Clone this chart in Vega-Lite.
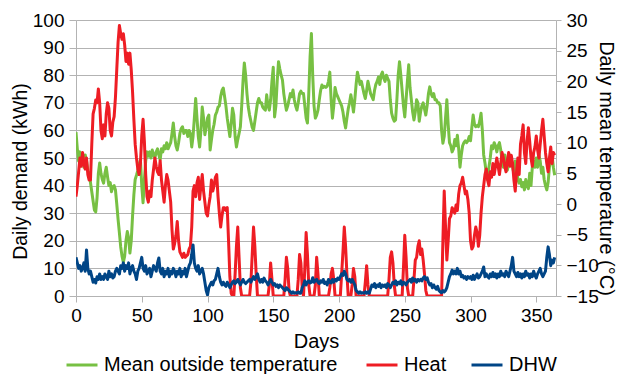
{
  "$schema": "https://vega.github.io/schema/vega-lite/v6.json",
  "width": 480,
  "height": 276,
  "autosize": {"type": "none"},
  "padding": {"left": 76, "top": 20, "right": 61, "bottom": 78},
  "background": "white",
  "config": {
    "font": "Liberation Sans",
    "view": {"stroke": null},
    "axis": {
      "labelFont": "Liberation Sans", "titleFont": "Liberation Sans",
      "labelFontSize": 19, "titleFontSize": 20, "titleFontWeight": "normal",
      "labelColor": "#000000", "titleColor": "#000000",
      "domainColor": "#b3b3b3", "tickColor": "#b3b3b3", "gridColor": "#b3b3b3",
      "domainWidth": 1, "tickWidth": 1, "gridWidth": 1
    },
    "legend": {"labelFont": "Liberation Sans", "labelFontSize": 20, "labelColor": "#000000", "labelLimit": 0,
               "orient": "none", "direction": "horizontal", "legendY": 328, "title": null,
               "symbolType": "stroke", "symbolSize": 961, "symbolStrokeWidth": 3, "labelOffset": 5}
  },
  "data": {"values": [
{"d":0,"T":11.7,"Heat":36,"DHW":14},{"d":1,"T":9,"Heat":40,"DHW":12},{"d":2,"T":7,"Heat":45,"DHW":10},{"d":3,"T":8.5,"Heat":50,"DHW":11},{"d":4,"T":6.5,"Heat":47,"DHW":9},{"d":5,"T":7.5,"Heat":52,"DHW":10},{"d":6,"T":6,"Heat":48,"DHW":12},{"d":7,"T":8,"Heat":46,"DHW":9},{"d":8,"T":7,"Heat":50,"DHW":16.7},{"d":9,"T":5.5,"Heat":44,"DHW":10},
{"d":10,"T":5,"Heat":42,"DHW":8},{"d":11,"T":3.5,"Heat":42,"DHW":9},{"d":12,"T":2,"Heat":55,"DHW":7},{"d":13,"T":0.5,"Heat":66,"DHW":5},{"d":14,"T":-1,"Heat":68,"DHW":6},{"d":15,"T":-1.3,"Heat":71,"DHW":4.7},{"d":16,"T":1,"Heat":70,"DHW":7},{"d":17,"T":5,"Heat":75,"DHW":6},{"d":18,"T":6.7,"Heat":70,"DHW":8},{"d":19,"T":5,"Heat":60,"DHW":6},
{"d":20,"T":4,"Heat":57,"DHW":7},{"d":21,"T":3.4,"Heat":62,"DHW":6},{"d":22,"T":5,"Heat":58,"DHW":8},{"d":23,"T":6,"Heat":66,"DHW":7},{"d":24,"T":4.4,"Heat":70,"DHW":6},{"d":25,"T":3,"Heat":68,"DHW":9},{"d":26,"T":3.5,"Heat":60,"DHW":7},{"d":27,"T":2,"Heat":58,"DHW":8},{"d":28,"T":2.8,"Heat":63,"DHW":6.5},{"d":29,"T":3,"Heat":65,"DHW":7},
{"d":30,"T":2.3,"Heat":72,"DHW":9},{"d":31,"T":0,"Heat":82,"DHW":10},{"d":32,"T":-2.5,"Heat":92,"DHW":9},{"d":33,"T":-4.7,"Heat":98,"DHW":8},{"d":34,"T":-7,"Heat":95,"DHW":11},{"d":35,"T":-8.5,"Heat":93,"DHW":10},{"d":36,"T":-9.5,"Heat":95,"DHW":12},{"d":37,"T":-8.5,"Heat":91,"DHW":9},{"d":38,"T":-6,"Heat":85,"DHW":11},{"d":39,"T":-4.5,"Heat":88,"DHW":10},
{"d":40,"T":-5.5,"Heat":84,"DHW":12},{"d":41,"T":-8,"Heat":88,"DHW":8},{"d":42,"T":-6,"Heat":82,"DHW":10},{"d":43,"T":-2,"Heat":74,"DHW":11},{"d":44,"T":1.5,"Heat":64,"DHW":9},{"d":45,"T":4,"Heat":55,"DHW":8},{"d":46,"T":4.7,"Heat":50,"DHW":6},{"d":47,"T":5.5,"Heat":46,"DHW":9},{"d":48,"T":6.5,"Heat":44,"DHW":10},{"d":49,"T":7.2,"Heat":48,"DHW":12},
{"d":50,"T":3,"Heat":58,"DHW":14},{"d":51,"T":0.2,"Heat":64,"DHW":10},{"d":52,"T":4,"Heat":56,"DHW":9},{"d":53,"T":7,"Heat":44,"DHW":11},{"d":54,"T":8.5,"Heat":36,"DHW":8},{"d":55,"T":7.8,"Heat":34,"DHW":9},{"d":56,"T":8.5,"Heat":38,"DHW":10},{"d":57,"T":7.5,"Heat":36,"DHW":7},{"d":58,"T":8.8,"Heat":42,"DHW":9},{"d":59,"T":8,"Heat":46,"DHW":11},
{"d":60,"T":7.5,"Heat":50,"DHW":10},{"d":61,"T":8.5,"Heat":47,"DHW":9},{"d":62,"T":9,"Heat":45,"DHW":12},{"d":63,"T":8,"Heat":44,"DHW":13.8},{"d":64,"T":7.2,"Heat":49,"DHW":9},{"d":65,"T":9,"Heat":42,"DHW":8},{"d":66,"T":8.5,"Heat":38,"DHW":10},{"d":67,"T":9.5,"Heat":34,"DHW":7},{"d":68,"T":9,"Heat":40,"DHW":9},{"d":69,"T":10,"Heat":44,"DHW":8},
{"d":70,"T":9,"Heat":42,"DHW":10},{"d":71,"T":9.5,"Heat":38,"DHW":7},{"d":72,"T":10,"Heat":34,"DHW":9},{"d":73,"T":11.5,"Heat":24,"DHW":8},{"d":74,"T":13.2,"Heat":17,"DHW":10},{"d":75,"T":11,"Heat":19,"DHW":9},{"d":76,"T":9.5,"Heat":22,"DHW":7},{"d":77,"T":8.8,"Heat":27,"DHW":9},{"d":78,"T":10,"Heat":20,"DHW":8},{"d":79,"T":11.5,"Heat":16,"DHW":10},
{"d":80,"T":12.3,"Heat":15,"DHW":7},{"d":81,"T":12.6,"Heat":14,"DHW":9},{"d":82,"T":11.5,"Heat":15.5,"DHW":8},{"d":83,"T":12,"Heat":14,"DHW":10},{"d":84,"T":12,"Heat":14.5,"DHW":7},{"d":85,"T":11,"Heat":15,"DHW":9},{"d":86,"T":12,"Heat":17,"DHW":11},{"d":87,"T":11.5,"Heat":18,"DHW":12},{"d":88,"T":9.3,"Heat":25,"DHW":15},{"d":89,"T":11,"Heat":38,"DHW":18.5},
{"d":90,"T":14,"Heat":40,"DHW":12},{"d":91,"T":17.2,"Heat":36,"DHW":10},{"d":92,"T":14,"Heat":41,"DHW":9},{"d":93,"T":11,"Heat":43,"DHW":11},{"d":94,"T":9.3,"Heat":35,"DHW":8},{"d":95,"T":12,"Heat":40,"DHW":9},{"d":96,"T":15.8,"Heat":44,"DHW":10},{"d":97,"T":14,"Heat":38,"DHW":8},{"d":98,"T":11.3,"Heat":34,"DHW":5},{"d":99,"T":12.5,"Heat":30,"DHW":2},
{"d":100,"T":14,"Heat":29,"DHW":0.4},{"d":101,"T":14.5,"Heat":33,"DHW":3},{"d":102,"T":8.8,"Heat":36,"DHW":4},{"d":103,"T":10.5,"Heat":42,"DHW":5},{"d":104,"T":12,"Heat":38,"DHW":4},{"d":105,"T":13,"Heat":40,"DHW":5.5},{"d":106,"T":14.5,"Heat":43,"DHW":6},{"d":107,"T":15,"Heat":44,"DHW":8},{"d":108,"T":15.8,"Heat":36,"DHW":10},{"d":109,"T":16,"Heat":30,"DHW":7},
{"d":110,"T":17.5,"Heat":25,"DHW":5},{"d":111,"T":18.5,"Heat":29,"DHW":4},{"d":112,"T":18.9,"Heat":32,"DHW":5},{"d":113,"T":17.5,"Heat":32,"DHW":4},{"d":114,"T":16,"Heat":31,"DHW":3.5},{"d":115,"T":14,"Heat":32,"DHW":5},{"d":116,"T":12.5,"Heat":20,"DHW":4},{"d":117,"T":11,"Heat":7,"DHW":3},{"d":118,"T":13,"Heat":1,"DHW":4},{"d":119,"T":15.6,"Heat":0,"DHW":5},
{"d":120,"T":14.5,"Heat":0,"DHW":5.5},{"d":121,"T":11,"Heat":8,"DHW":4.5},{"d":122,"T":9.3,"Heat":18,"DHW":5},{"d":123,"T":10.5,"Heat":25,"DHW":6},{"d":124,"T":11.5,"Heat":14,"DHW":5},{"d":125,"T":12.6,"Heat":3,"DHW":4},{"d":126,"T":16,"Heat":0,"DHW":5},{"d":127,"T":20,"Heat":0,"DHW":6},{"d":128,"T":23,"Heat":0,"DHW":5},{"d":129,"T":21,"Heat":0,"DHW":4.5},
{"d":130,"T":18,"Heat":0,"DHW":5},{"d":131,"T":15.8,"Heat":0,"DHW":5.5},{"d":132,"T":14.5,"Heat":0,"DHW":6},{"d":133,"T":13.5,"Heat":5,"DHW":5},{"d":134,"T":12.5,"Heat":15,"DHW":6},{"d":135,"T":12,"Heat":25,"DHW":7},{"d":136,"T":13.5,"Heat":18,"DHW":6},{"d":137,"T":15,"Heat":8,"DHW":7},{"d":138,"T":16.5,"Heat":0,"DHW":8},{"d":139,"T":17.2,"Heat":0,"DHW":6},
{"d":140,"T":16.5,"Heat":0,"DHW":5},{"d":141,"T":16.5,"Heat":0,"DHW":6},{"d":142,"T":15.8,"Heat":0,"DHW":5},{"d":143,"T":15.5,"Heat":0,"DHW":6.5},{"d":144,"T":15.3,"Heat":0,"DHW":5.5},{"d":145,"T":17.8,"Heat":0,"DHW":5},{"d":146,"T":16,"Heat":0,"DHW":4},{"d":147,"T":15.3,"Heat":4,"DHW":5},{"d":148,"T":17,"Heat":12,"DHW":6},{"d":149,"T":20,"Heat":6,"DHW":5},
{"d":150,"T":22.3,"Heat":0,"DHW":4},{"d":151,"T":14.2,"Heat":0,"DHW":4.5},{"d":152,"T":16,"Heat":0,"DHW":3.5},{"d":153,"T":20,"Heat":0,"DHW":4},{"d":154,"T":23.2,"Heat":0,"DHW":3},{"d":155,"T":22,"Heat":0,"DHW":4},{"d":156,"T":21,"Heat":0,"DHW":3.5},{"d":157,"T":20.2,"Heat":0,"DHW":3},{"d":158,"T":18,"Heat":0,"DHW":2.5},{"d":159,"T":16.5,"Heat":6,"DHW":2},
{"d":160,"T":15.3,"Heat":14,"DHW":3},{"d":161,"T":16,"Heat":10,"DHW":2.5},{"d":162,"T":17,"Heat":2,"DHW":2},{"d":163,"T":18,"Heat":0,"DHW":1.5},{"d":164,"T":17.5,"Heat":0,"DHW":1},{"d":165,"T":18.6,"Heat":0,"DHW":1.5},{"d":166,"T":17,"Heat":0,"DHW":1},{"d":167,"T":16,"Heat":0,"DHW":1.2},{"d":168,"T":15.3,"Heat":0,"DHW":1},{"d":169,"T":16.5,"Heat":6,"DHW":1.5},
{"d":170,"T":18,"Heat":15,"DHW":1},{"d":171,"T":18.4,"Heat":12,"DHW":1},{"d":172,"T":18,"Heat":3,"DHW":3},{"d":173,"T":18,"Heat":0,"DHW":4},{"d":174,"T":16,"Heat":10,"DHW":5.5},{"d":175,"T":14,"Heat":23,"DHW":4},{"d":176,"T":13.2,"Heat":15,"DHW":5},{"d":177,"T":18,"Heat":4,"DHW":5.5},{"d":178,"T":24,"Heat":0,"DHW":4.7},{"d":179,"T":27.8,"Heat":0,"DHW":5},
{"d":180,"T":21,"Heat":0,"DHW":6.6},{"d":181,"T":16,"Heat":0,"DHW":5},{"d":182,"T":14,"Heat":4,"DHW":5.5},{"d":183,"T":14.5,"Heat":14,"DHW":6},{"d":184,"T":15.3,"Heat":8,"DHW":5},{"d":185,"T":17,"Heat":0,"DHW":4.5},{"d":186,"T":18.5,"Heat":0,"DHW":5.5},{"d":187,"T":19.4,"Heat":0,"DHW":5},{"d":188,"T":19,"Heat":0,"DHW":6},{"d":189,"T":19.2,"Heat":0,"DHW":4.5},
{"d":190,"T":19,"Heat":0,"DHW":5},{"d":191,"T":19.2,"Heat":0,"DHW":4},{"d":192,"T":20,"Heat":0,"DHW":6},{"d":193,"T":21.5,"Heat":3,"DHW":5},{"d":194,"T":17,"Heat":8,"DHW":4.7},{"d":195,"T":14,"Heat":10,"DHW":6},{"d":196,"T":16,"Heat":6,"DHW":5},{"d":197,"T":19,"Heat":0,"DHW":6},{"d":198,"T":18,"Heat":0,"DHW":5.5},{"d":199,"T":17.5,"Heat":0,"DHW":6.5},
{"d":200,"T":17,"Heat":0,"DHW":6},{"d":201,"T":16.5,"Heat":0,"DHW":7},{"d":202,"T":16,"Heat":8,"DHW":8},{"d":203,"T":15,"Heat":16,"DHW":7.5},{"d":204,"T":13.5,"Heat":25,"DHW":9},{"d":205,"T":12.4,"Heat":18,"DHW":8},{"d":206,"T":14,"Heat":8,"DHW":6},{"d":207,"T":15.5,"Heat":0,"DHW":5.5},{"d":208,"T":16.5,"Heat":0,"DHW":6},{"d":209,"T":17.8,"Heat":0,"DHW":5},
{"d":210,"T":16.5,"Heat":4,"DHW":6},{"d":211,"T":15,"Heat":10,"DHW":5},{"d":212,"T":17,"Heat":7,"DHW":4},{"d":213,"T":19.5,"Heat":0,"DHW":2},{"d":214,"T":21.5,"Heat":0,"DHW":1.5},{"d":215,"T":20.5,"Heat":0,"DHW":1},{"d":216,"T":19.5,"Heat":0,"DHW":1.5},{"d":217,"T":20,"Heat":0,"DHW":1},{"d":218,"T":19,"Heat":0,"DHW":1.2},{"d":219,"T":18,"Heat":0,"DHW":1},
{"d":220,"T":17.2,"Heat":5,"DHW":1.5},{"d":221,"T":18.5,"Heat":11,"DHW":1},{"d":222,"T":20,"Heat":4,"DHW":1.5},{"d":223,"T":19,"Heat":0,"DHW":1},{"d":224,"T":18,"Heat":0,"DHW":2.5},{"d":225,"T":17.5,"Heat":0,"DHW":4},{"d":226,"T":17,"Heat":0,"DHW":3.5},{"d":227,"T":18.5,"Heat":0,"DHW":4.5},{"d":228,"T":19.5,"Heat":0,"DHW":3},{"d":229,"T":20,"Heat":0,"DHW":4},
{"d":230,"T":20.7,"Heat":0,"DHW":3.5},{"d":231,"T":19.5,"Heat":0,"DHW":4.5},{"d":232,"T":21,"Heat":0,"DHW":3},{"d":233,"T":21.5,"Heat":0,"DHW":4},{"d":234,"T":20.5,"Heat":0,"DHW":3.5},{"d":235,"T":20,"Heat":0,"DHW":4},{"d":236,"T":21,"Heat":0,"DHW":3},{"d":237,"T":20.5,"Heat":0,"DHW":4.5},{"d":238,"T":20,"Heat":6,"DHW":4},{"d":239,"T":17,"Heat":14,"DHW":3},
{"d":240,"T":14.8,"Heat":16,"DHW":4},{"d":241,"T":14,"Heat":12,"DHW":5},{"d":242,"T":13.5,"Heat":4,"DHW":4.5},{"d":243,"T":13.7,"Heat":0,"DHW":5.5},{"d":244,"T":17,"Heat":0,"DHW":4},{"d":245,"T":21,"Heat":0,"DHW":5},{"d":246,"T":23.2,"Heat":0,"DHW":4.5},{"d":247,"T":21,"Heat":0,"DHW":5.5},{"d":248,"T":18.5,"Heat":0,"DHW":4},{"d":249,"T":16,"Heat":10,"DHW":5},
{"d":250,"T":14.2,"Heat":22,"DHW":4.7},{"d":251,"T":17,"Heat":14,"DHW":4},{"d":252,"T":20,"Heat":3,"DHW":5},{"d":253,"T":22.7,"Heat":0,"DHW":5.5},{"d":254,"T":19,"Heat":0,"DHW":6},{"d":255,"T":17,"Heat":0,"DHW":5},{"d":256,"T":15,"Heat":0,"DHW":6.5},{"d":257,"T":13.7,"Heat":6,"DHW":5.5},{"d":258,"T":15,"Heat":13,"DHW":6},{"d":259,"T":17,"Heat":14,"DHW":5},
{"d":260,"T":16.5,"Heat":18,"DHW":6},{"d":261,"T":13.5,"Heat":20,"DHW":5.5},{"d":262,"T":15,"Heat":15,"DHW":6},{"d":263,"T":16,"Heat":17,"DHW":5.5},{"d":264,"T":16.5,"Heat":13,"DHW":6.6},{"d":265,"T":15.5,"Heat":8,"DHW":7},{"d":266,"T":14.5,"Heat":2,"DHW":6},{"d":267,"T":16,"Heat":0,"DHW":6.6},{"d":268,"T":18,"Heat":0,"DHW":5},{"d":269,"T":19.1,"Heat":0,"DHW":4},
{"d":270,"T":18,"Heat":0,"DHW":4.5},{"d":271,"T":17.5,"Heat":0,"DHW":3},{"d":272,"T":18,"Heat":0,"DHW":4},{"d":273,"T":17,"Heat":0,"DHW":3},{"d":274,"T":17,"Heat":0,"DHW":2.5},{"d":275,"T":16.5,"Heat":0,"DHW":3.5},{"d":276,"T":16.5,"Heat":0,"DHW":2},{"d":277,"T":16,"Heat":0,"DHW":1.5},{"d":278,"T":12,"Heat":0,"DHW":1.2},{"d":279,"T":9.9,"Heat":20,"DHW":2},
{"d":280,"T":11,"Heat":38,"DHW":1.5},{"d":281,"T":14,"Heat":25,"DHW":2},{"d":282,"T":17,"Heat":13,"DHW":3},{"d":283,"T":13,"Heat":20,"DHW":5},{"d":284,"T":10,"Heat":28,"DHW":7},{"d":285,"T":9.5,"Heat":29,"DHW":8},{"d":286,"T":8.5,"Heat":32,"DHW":9.4},{"d":287,"T":9,"Heat":31,"DHW":8},{"d":288,"T":10.5,"Heat":30,"DHW":9},{"d":289,"T":9.5,"Heat":33,"DHW":8},
{"d":290,"T":11.2,"Heat":31,"DHW":10},{"d":291,"T":9,"Heat":37,"DHW":8},{"d":292,"T":6,"Heat":40,"DHW":9},{"d":293,"T":8,"Heat":41,"DHW":7},{"d":294,"T":9.5,"Heat":43,"DHW":7.5},{"d":295,"T":10,"Heat":40,"DHW":6.5},{"d":296,"T":10.3,"Heat":37,"DHW":7},{"d":297,"T":10,"Heat":38,"DHW":6},{"d":298,"T":10.3,"Heat":35,"DHW":7},{"d":299,"T":11,"Heat":30,"DHW":6.5},
{"d":300,"T":10.3,"Heat":20,"DHW":7},{"d":301,"T":12.5,"Heat":17,"DHW":6},{"d":302,"T":14.5,"Heat":18,"DHW":7.5},{"d":303,"T":13,"Heat":22,"DHW":6},{"d":304,"T":12.6,"Heat":25,"DHW":7},{"d":305,"T":12.8,"Heat":23,"DHW":8},{"d":306,"T":12.6,"Heat":18,"DHW":6.5},{"d":307,"T":13.5,"Heat":22,"DHW":7},{"d":308,"T":14.8,"Heat":30,"DHW":8},{"d":309,"T":12,"Heat":36,"DHW":9},
{"d":310,"T":8,"Heat":40,"DHW":10.5},{"d":311,"T":6.7,"Heat":44,"DHW":7},{"d":312,"T":5,"Heat":46,"DHW":8},{"d":313,"T":4,"Heat":42,"DHW":7},{"d":314,"T":6,"Heat":40,"DHW":6.5},{"d":315,"T":7.5,"Heat":45,"DHW":8},{"d":316,"T":9.5,"Heat":43,"DHW":7},{"d":317,"T":9,"Heat":48,"DHW":8.5},{"d":318,"T":10,"Heat":44,"DHW":7},{"d":319,"T":9.5,"Heat":47,"DHW":8},
{"d":320,"T":8.5,"Heat":50,"DHW":6.5},{"d":321,"T":9.5,"Heat":47,"DHW":8},{"d":322,"T":10,"Heat":44,"DHW":7},{"d":323,"T":8.8,"Heat":48,"DHW":9},{"d":324,"T":7,"Heat":52,"DHW":7.5},{"d":325,"T":6,"Heat":50,"DHW":8},{"d":326,"T":8,"Heat":47,"DHW":7},{"d":327,"T":7,"Heat":45,"DHW":9},{"d":328,"T":5.5,"Heat":49,"DHW":8},{"d":329,"T":6.5,"Heat":52,"DHW":7},
{"d":330,"T":8,"Heat":47,"DHW":9},{"d":331,"T":7,"Heat":51,"DHW":11},{"d":332,"T":6,"Heat":48,"DHW":14},{"d":333,"T":5,"Heat":42,"DHW":9},{"d":334,"T":7,"Heat":38,"DHW":8},{"d":335,"T":6,"Heat":45,"DHW":7},{"d":336,"T":4,"Heat":50,"DHW":8.5},{"d":337,"T":3.4,"Heat":44,"DHW":7},{"d":338,"T":4,"Heat":55,"DHW":8},{"d":339,"T":2.8,"Heat":58,"DHW":6.5},
{"d":340,"T":3.5,"Heat":62,"DHW":8},{"d":341,"T":2.3,"Heat":52,"DHW":7},{"d":342,"T":4,"Heat":48,"DHW":9},{"d":343,"T":3,"Heat":56,"DHW":7.5},{"d":344,"T":2.5,"Heat":61,"DHW":8},{"d":345,"T":5,"Heat":56,"DHW":6.5},{"d":346,"T":3,"Heat":50,"DHW":8},{"d":347,"T":6,"Heat":47,"DHW":7},{"d":348,"T":7,"Heat":52,"DHW":9},{"d":349,"T":6,"Heat":54,"DHW":7.5},
{"d":350,"T":7.5,"Heat":58,"DHW":6.5},{"d":351,"T":6,"Heat":53,"DHW":8},{"d":352,"T":8,"Heat":50,"DHW":9},{"d":353,"T":7,"Heat":55,"DHW":10},{"d":354,"T":5,"Heat":60,"DHW":8},{"d":355,"T":6,"Heat":64,"DHW":7},{"d":356,"T":4,"Heat":58,"DHW":8},{"d":357,"T":3,"Heat":52,"DHW":9},{"d":358,"T":2.3,"Heat":48,"DHW":14},{"d":359,"T":3.5,"Heat":45,"DHW":17.8},
{"d":360,"T":6,"Heat":50,"DHW":15},{"d":361,"T":7,"Heat":54,"DHW":11},{"d":362,"T":8,"Heat":48,"DHW":13},{"d":363,"T":6,"Heat":52,"DHW":12},{"d":364,"T":4.7,"Heat":51,"DHW":14}
  ]},
  "encoding": {
    "x": {
      "field": "d", "type": "quantitative",
      "scale": {"domain": [0, 365], "nice": false, "zero": false},
      "axis": {"values": [0, 50, 100, 150, 200, 250, 300, 350], "title": "Days", "grid": false,
               "labelFlush": false, "tickSize": 6, "labelPadding": 4, "titlePadding": 6}
    }
  },
  "layer": [
    {
      "mark": {"type": "line", "strokeWidth": 3, "strokeJoin": "round", "clip": true},
      "encoding": {
        "y": {"field": "T", "type": "quantitative",
              "scale": {"domain": [-15, 30], "nice": false, "zero": false},
              "axis": {"orient": "right", "values": [-15, -10, -5, 0, 5, 10, 15, 20, 25, 30], "grid": false,
                       "title": "Daily mean temperature (°C)", "tickSize": 5, "labelPadding": 5,
                       "titleX": 49.5, "titleY": 148, "titleBaseline": "middle", "titleAngle": 90}},
        "color": {"datum": "Mean outside temperature", "type": "nominal",
                  "scale": {"domain": ["Mean outside temperature"], "range": ["#77c043"]},
                  "legend": {"legendX": -11}}
      }
    },
    {
      "layer": [
        {
          "mark": {"type": "line", "strokeWidth": 3, "strokeJoin": "round", "clip": true},
          "encoding": {
            "y": {"field": "Heat", "type": "quantitative",
                  "scale": {"domain": [0, 100], "nice": false},
                  "axis": {"orient": "left", "values": [0, 10, 20, 30, 40, 50, 60, 70, 80, 90, 100], "grid": true,
                           "title": "Daily demand (kWh)", "tickSize": 7, "labelPadding": 5, "titleFontSize": 19.5,
                           "titleX": -56, "titleY": 151, "titleBaseline": "middle", "titleAngle": 270}},
            "color": {"datum": "Heat", "type": "nominal",
                      "scale": {"domain": ["Heat"], "range": ["#ee1d24"]},
                      "legend": {"legendX": 289}}
          }
        },
        {
          "mark": {"type": "line", "strokeWidth": 3, "strokeJoin": "round", "clip": true},
          "encoding": {
            "y": {"field": "DHW", "type": "quantitative",
                  "scale": {"domain": [0, 100], "nice": false},
                  "axis": {"orient": "left", "values": [0, 10, 20, 30, 40, 50, 60, 70, 80, 90, 100], "grid": true,
                           "title": "Daily demand (kWh)", "tickSize": 7, "labelPadding": 5, "titleFontSize": 19.5,
                           "titleX": -56, "titleY": 151, "titleBaseline": "middle", "titleAngle": 270}},
            "color": {"datum": "DHW", "type": "nominal",
                      "scale": {"domain": ["DHW"], "range": ["#004586"]},
                      "legend": {"legendX": 394}}
          }
        }
      ],
      "resolve": {"scale": {"color": "independent"}}
    }
  ],
  "resolve": {"scale": {"y": "independent", "color": "independent"}}
}
